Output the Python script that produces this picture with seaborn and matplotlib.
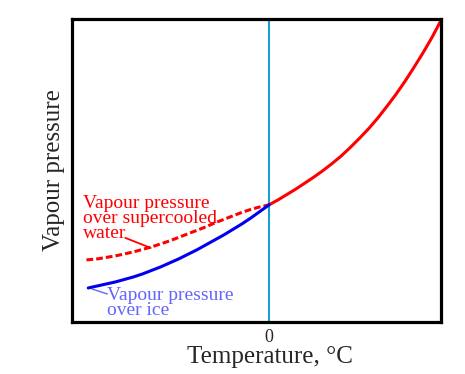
import matplotlib
matplotlib.use("Agg")
import matplotlib.pyplot as plt
import seaborn as sns

# temperatures (deg C) and relative vapour pressure
temp_water = [0, 1, 2, 3, 4, 5, 6, 7, 8, 9, 10, 11, 12, 13, 14, 15, 16, 17, 18, 19]
vp_water = [117, 122, 127.5, 133, 139, 145, 151.5, 158.5, 166, 174.5, 183.5,
            193, 203.5, 215, 227, 240, 254, 268.5, 284, 301]

temp_supercooled = [-20.2, -19, -18, -17, -16, -15, -14, -13, -12, -11, -10,
                    -9, -8, -7, -6, -5, -4, -3, -2, -1, 0]
vp_supercooled = [62, 63, 64.5, 66, 68, 70, 72.5, 75, 78, 81, 84.5,
                  88, 91.5, 95, 99, 102.5, 106, 109.5, 112.5, 115, 117]

temp_ice = [-20, -19, -18, -17, -16, -15, -14, -13, -12, -11, -10,
            -9, -8, -7, -6, -5, -4, -3, -2, -1, 0]
vp_ice = [34, 36, 38, 40, 42.5, 45, 48, 51.5, 55, 59, 63,
          67.5, 72, 77, 82, 87, 92.5, 98, 104, 110.5, 117]

sns.set_style("white")
plt.rcParams["font.family"] = ["Liberation Serif", "DejaVu Serif"]

fig = plt.figure(figsize=(4.65, 3.74), dpi=100)
ax = fig.add_axes([0.1548, 0.139, 0.7935, 0.8115])

ax.axvline(0, color="#1a9fd0", lw=1.5, zorder=1)

sns.lineplot(x=temp_ice, y=vp_ice, ax=ax, color="#0000ee", lw=2.2, zorder=3)
sns.lineplot(x=temp_supercooled, y=vp_supercooled, ax=ax, color="#ff0000",
             lw=2.2, linestyle=(0, (2.2, 1.0)), zorder=2)
sns.lineplot(x=temp_water, y=vp_water, ax=ax, color="#ff0000", lw=2.2, zorder=2)

ax.set_xlim(-21.8, 19.0)
ax.set_ylim(0, 303)
ax.set_xticks([0])
ax.set_xticklabels(["0"], fontsize=13)
ax.set_yticks([])
ax.tick_params(axis="x", length=0, pad=5)
for s in ax.spines.values():
    s.set_linewidth(2.3)
    s.set_color("black")

ax.set_xlabel("Temperature, °C", fontsize=18, labelpad=0, x=0.537)
ax.set_ylabel("Vapour pressure", fontsize=18, labelpad=5)

ax.text(-20.6, 127, "Vapour pressure\nover supercooled\nwater", color="#ff0000",
        fontsize=14, va="top", ha="left", linespacing=0.85)
ax.plot([-15.9, -13.1], [84, 74], color="#ff0000", lw=1.3)

ax.text(-17.9, 35, "Vapour pressure\nover ice", color="#6464ff",
        fontsize=14, va="top", ha="left", linespacing=0.85)
ax.plot([-19.6, -17.9], [33, 28], color="#6464ff", lw=1.0)

fig.savefig("out.png", dpi=100)
